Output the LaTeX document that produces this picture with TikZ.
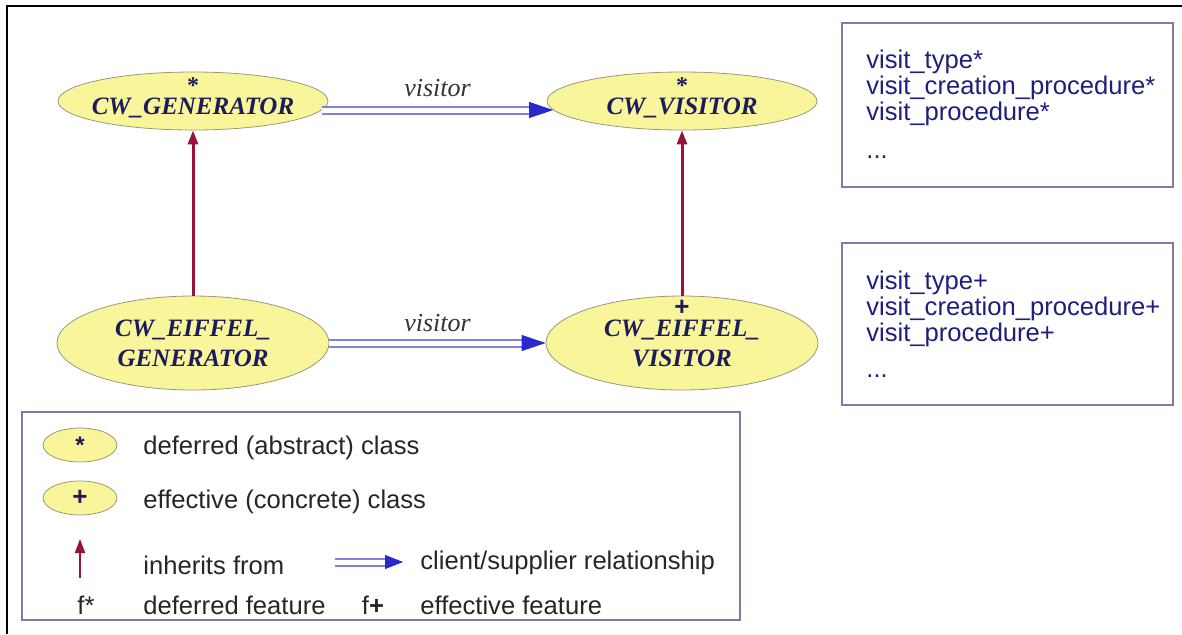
\documentclass[tikz,border=0pt]{standalone}
\usepackage{fontspec}
\setmainfont{Liberation Serif}
\setsansfont{Liberation Sans}
\usepackage{tikz}
\usetikzlibrary{arrows.meta,positioning,shapes,calc}
\definecolor{clsfill}{HTML}{F8F59B}
\definecolor{clsline}{HTML}{9A987A}
\definecolor{clstext}{HTML}{1C1C5A}
\definecolor{feattext}{HTML}{1E1E7C}
\definecolor{boxline}{HTML}{7C7CAC}
\definecolor{inherit}{HTML}{99123A}
\definecolor{linkline}{HTML}{8282D8}
\definecolor{linkhead}{HTML}{2828CC}

\begin{document}
\begin{tikzpicture}[x=0.5pt,y=-0.5pt,
  cls/.style={ellipse,draw=clsline,fill=clsfill,text=clstext,font=\fontsize{12.5}{15}\selectfont\bfseries\itshape,align=center,inner xsep=-6pt,inner ysep=0pt,minimum width=135pt,minimum height=29pt},
  ecls/.style={cls,minimum width=136pt,minimum height=47pt},
  mk/.style={anchor=north,yshift=-2pt,text=clstext,font=\fontsize{12}{12}\selectfont\bfseries\upshape,inner sep=1pt},
  inh/.style={draw=inherit,line width=1.5pt,-{Triangle[length=7pt,width=5pt]}},
  link/.style={draw=linkline,double=white,double distance=2.5pt,line width=1pt},
  linkhd/.style={linkhead,-{Triangle[length=12pt,width=8pt]}},
  vlbl/.style={font=\fontsize{13}{13}\selectfont\itshape,text=black!80},
  fbox/.style={draw=boxline,line width=0.8pt,minimum width=165.5pt},
  feat/.style={font=\sffamily\fontsize{12.8}{13}\selectfont,text=feattext,align=left,inner sep=0pt,anchor=west},
  lg/.style={font=\sffamily\fontsize{12.8}{13}\selectfont,text=black!85,inner sep=0pt,anchor=west}]
\useasboundingbox (0,0) rectangle (1182,634);
\draw[line width=1pt] (7,634) -- (7,6) -- (1182,6);

\node[cls,text height=15pt,label={[mk]north:*}] (gen) at (193,101) {CW\_GENERATOR};
\node[cls,text height=15pt,label={[mk]north:*}] (vis) at (682,101) {CW\_VISITOR};
\node[ecls] (egen) at (193,343) {CW\_EIFFEL\_\\GENERATOR};
\node[ecls,label={[mk,yshift=1pt,font=\sffamily\bfseries\fontsize{13}{13}\selectfont]north:+}] (evis) at (682,343) {CW\_EIFFEL\_\\VISITOR};

\foreach \x/\y in {egen/gen,evis/vis} \draw[inh] (\x) -- (\y);
\draw[link,shorten >=11pt] (gen.-4) -- node[vlbl,above=3pt] {visitor} (vis.184);
\draw[linkhd] ($(vis.184)+(-24,0)$) -- (vis.184);
\draw[link,shorten >=11pt] (egen.east) -- node[vlbl,above=2pt] {visitor} (evis.west);
\draw[linkhd] ($(evis.west)+(-24,0)$) -- (evis.west);

\node[fbox,minimum height=82pt] (bdef) at (1007.5,105) {};
\node[feat] (tdef) at (866,104) {visit\_type*\\visit\_creation\_procedure*\\visit\_procedure*\\[6pt]...};
\node[fbox,minimum height=81pt] (beff) at (1007.5,324) {};
\node[feat] (teff) at (866,324) {visit\_type+\\visit\_creation\_procedure+\\visit\_procedure+\\[5pt]...};

\node[fbox,minimum width=359pt,minimum height=104pt] (key) at (381,516) {};
\node[cls,minimum width=37pt,minimum height=17pt,font=\sffamily\bfseries\fontsize{12}{12}\selectfont] (kdef) at (80,445) {*};
\node[cls,minimum width=37pt,minimum height=17pt,font=\sffamily\bfseries\fontsize{13}{13}\selectfont] (keff) at (80,498) {+};
\node[lg] (tkdef) at (143,448) {deferred (abstract) class};
\node[lg] (tkeff) at (143,502) {effective (concrete) class};
\coordinate (ia) at (80,578);
\coordinate (ib) at (80,539);
\draw[inh,line width=1pt] (ia) -- (ib);
\node[lg] (tinh) at (143,565) {inherits from};
\coordinate (ca) at (335,562);
\coordinate (cb) at (403,562);
\draw[link,shorten >=9pt] (ca) -- (cb);
\draw[linkhd,-{Triangle[length=9pt,width=7pt]}] ($(cb)+(-18,0)$) -- (cb);
\node[lg] (tcs) at (420,563) {client/supplier relationship};
\node[lg,anchor=center] (fd) at (86,605) {f*};
\node[lg] (tfd) at (143,605) {deferred feature};
\node[lg,anchor=center] (fe) at (373,605) {f\textbf{+}};
\node[lg] (tfe) at (420,605) {effective feature};
\end{tikzpicture}
\end{document}
